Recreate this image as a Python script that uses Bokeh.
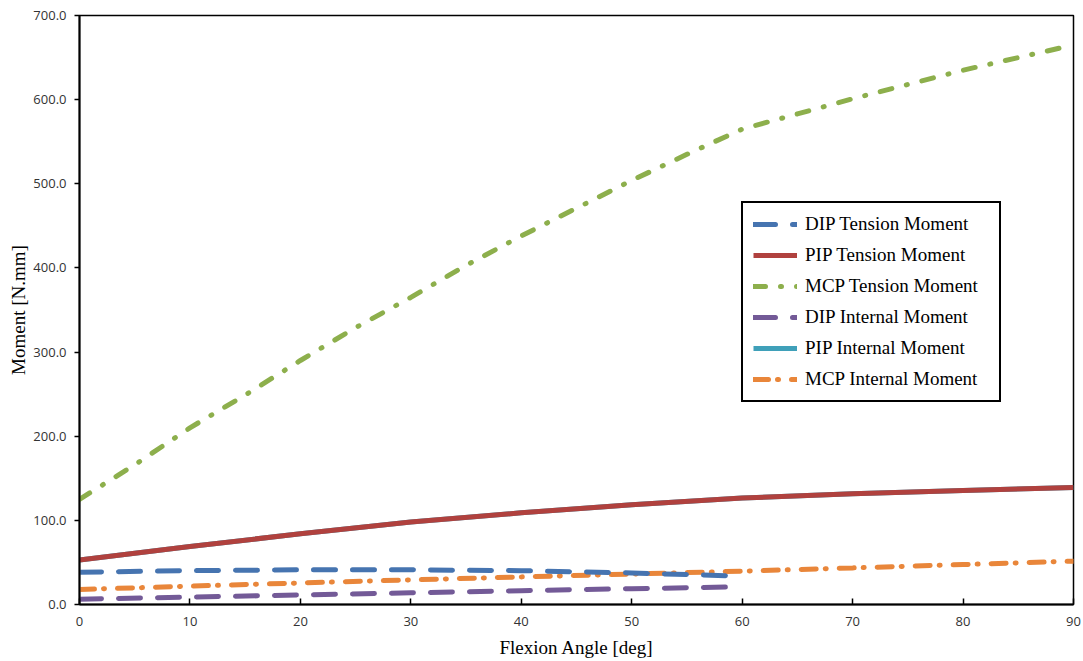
from bokeh.plotting import figure
from bokeh.models import Legend, LegendItem, NumeralTickFormatter, FixedTicker, Range1d
from bokeh.embed import file_html
from bokeh.resources import INLINE

# ---- data ----
angle_5 = [0, 5, 10, 15, 20, 25, 30, 35, 40, 45, 50, 55, 60, 65, 70, 75, 80, 85, 90]
mcp_tension = [125, 166, 210, 249, 290, 329, 365, 403, 438, 471, 504, 535, 565,
               583, 601, 618, 635, 650, 665]

angle_full = [0, 10, 20, 30, 40, 50, 60, 70, 80, 90]
pip_tension = [53, 69, 84, 98, 109, 118.5, 126.5, 131.5, 135.5, 139]
pip_internal = [53, 69, 84, 98, 109, 118.5, 126.5, 131.5, 135.5, 139]
mcp_internal = [17.8, 21.8, 25.6, 29.3, 32.8, 36.2, 39.6, 43.5, 47.5, 51.5]

angle_dip = [0, 10, 20, 30, 40, 50, 60]
dip_tension = [38.4, 40.2, 41.2, 41.2, 40.2, 37.5, 33.7]
dip_internal = [6.3, 8.8, 11.3, 13.9, 16.4, 18.8, 21.0]

x_ticks = [0, 10, 20, 30, 40, 50, 60, 70, 80, 90]
y_ticks = [0, 100, 200, 300, 400, 500, 600, 700]

labels = ["DIP Tension Moment", "PIP Tension Moment", "MCP Tension Moment",
          "DIP Internal Moment", "PIP Internal Moment", "MCP Internal Moment"]
colors = ["#4674B0", "#B0413E", "#8DAF4C", "#735A97", "#3FA0B9", "#E9863A"]

# ---- figure ----
p = figure(width=1083, height=661, output_backend="svg", toolbar_location=None,
           x_range=Range1d(0, 90), y_range=Range1d(0, 700),
           min_border_left=79, min_border_right=10, min_border_top=15, min_border_bottom=57)
p.grid.visible = False
p.background_fill_color = "white"
p.border_fill_color = "white"
p.outline_line_color = "black"
p.outline_line_width = 1.5

W = 5
r_pip_i = p.line(angle_full, pip_internal, line_color=colors[4], line_width=W)
r_mcp_t = p.line(angle_5, mcp_tension, line_color=colors[2], line_width=W,
                 line_dash="12 15 1 15", line_cap="round")
r_pip_t = p.line(angle_full, pip_tension, line_color=colors[1], line_width=W)
r_mcp_i = p.line(angle_full, mcp_internal, line_color=colors[5], line_width=W,
                 line_dash="15 9 1 13", line_cap="round")
r_dip_t = p.line(angle_dip, dip_tension, line_color=colors[0], line_width=W,
                 line_dash="22 17", line_cap="round")
r_dip_i = p.line(angle_dip, dip_internal, line_color=colors[3], line_width=W,
                 line_dash="22 17", line_cap="round")

renderers = [r_dip_t, r_pip_t, r_mcp_t, r_dip_i, r_pip_i, r_mcp_i]
legend = Legend(items=[LegendItem(label=l, renderers=[r]) for l, r in zip(labels, renderers)],
                location=(662, 202), border_line_color="black", border_line_width=2,
                border_line_alpha=1.0,
                padding=10, spacing=9, label_height=22, glyph_width=44, glyph_height=22,
                label_standoff=8, label_width=184, margin=0,
                label_text_font="Liberation Serif", label_text_font_size="19px",
                label_text_color="black", background_fill_alpha=1.0)
p.add_layout(legend)

# axes
for ax in (p.xaxis[0], p.yaxis[0]):
    ax.axis_line_color = "black"
    ax.axis_line_width = 2
    ax.major_tick_line_color = "black"
    ax.major_tick_line_width = 1.5
    ax.minor_tick_line_color = None
    ax.major_label_text_font = "Open Sans"
    ax.major_label_text_font_size = "13px"
    ax.major_label_text_color = "#333333"
    ax.axis_label_text_font = "Liberation Serif"
    ax.axis_label_text_font_size = "19px"
    ax.axis_label_text_font_style = "normal"
    ax.axis_label_text_color = "black"

p.xaxis.ticker = FixedTicker(ticks=x_ticks)
p.yaxis.ticker = FixedTicker(ticks=y_ticks)
p.yaxis.formatter = NumeralTickFormatter(format="0.0")
p.xaxis.axis_label = "Flexion Angle [deg]"
p.yaxis.axis_label = "Moment [N.mm]"
p.xaxis.major_tick_in = 6
p.xaxis.major_tick_out = 0
p.yaxis.major_tick_in = 0
p.yaxis.major_tick_out = 5
p.xaxis.major_label_standoff = 12
p.yaxis.major_label_standoff = 8
p.xaxis.axis_label_standoff = 8
p.yaxis.axis_label_standoff = 1

open("out.html", "w").write(file_html(p, INLINE))
